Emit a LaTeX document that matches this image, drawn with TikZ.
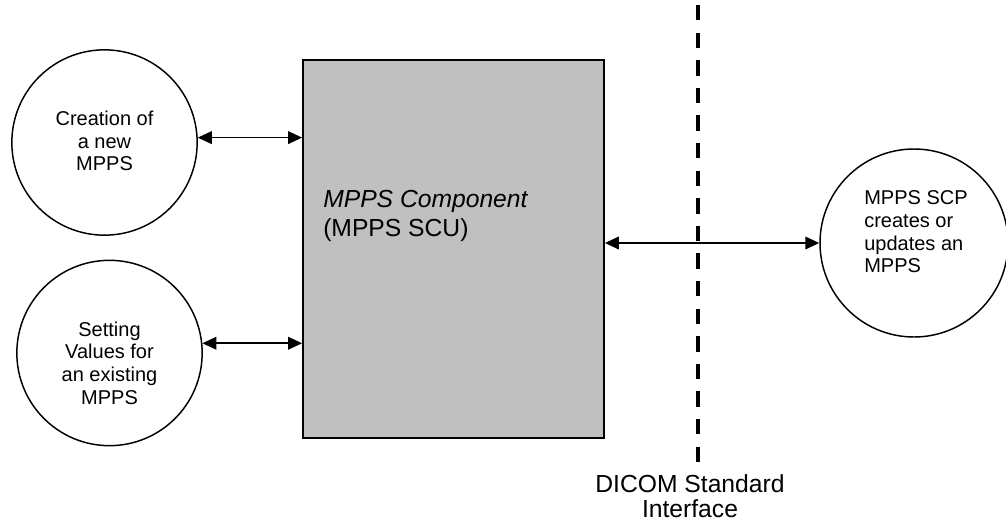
\documentclass[tikz,border=0pt]{standalone}
\usepackage{fontspec}
\setmainfont{Liberation Sans}
\usetikzlibrary{arrows.meta}
\definecolor{compgray}{RGB}{192,192,192}

\begin{document}
\begin{tikzpicture}[x=0.75pt,y=-0.75pt,
	usecase/.style={draw, circle, line width=1.1pt, inner sep=0pt},
	casetext/.style={align=center, inner sep=0pt, font=\fontsize{15pt}{17pt}\selectfont},
	link/.style={<->, >={Triangle[length=10.5pt,width=9.5pt]}, line width=1.2pt}]
	\useasboundingbox (0,0) rectangle (1006,525);
	
	% MPPS component (grey box)
	\node[draw, fill=compgray, line width=1.1pt, minimum width=226pt, minimum height=283.5pt, inner sep=0pt] (comp) at (453.5,249) {};
	\node[anchor=north west, inner sep=0pt, align=left, font=\fontsize{18.5pt}{21.75pt}\selectfont] (comptext) at (323,190) {\textit{MPPS Component}\\(MPPS SCU)};
	
	% use cases on the left
	\node[usecase, minimum size=139pt] (create) at (104.5,142.5) {};
	\node[casetext] (createtext) at (104.5,141) {Creation of\\a new\\MPPS};
	\node[usecase, minimum size=139pt] (setval) at (109.5,353) {};
	\node[casetext] (setvaltext) at (109.5,363) {Setting\\Values for\\an existing\\MPPS};
	
	% remote SCP
	\node[usecase, minimum size=141pt] (scp) at (914,243) {};
	\node[casetext, align=left] (scptext) at (916,232) {MPPS SCP\\creates or\\updates an\\MPPS};
	
	\draw[link] (create.3) -- (create.3 -| comp.west);
	\draw[link] (setval.6) -- (setval.6 -| comp.west);
	\draw[link] (comp.east |- scp.west) -- (scp.west);
	
	% interface border
	\coordinate (ifacetop) at (698,5);
	\coordinate (ifacebot) at (698,462);
	\draw[line width=3pt, dash pattern=on 11.5pt off 9.2pt] (ifacetop) -- (ifacebot);
	\node[align=center, inner sep=0pt, font=\fontsize{18.5pt}{18.75pt}\selectfont] (ifacetext) at (690,496.5) {DICOM Standard\\Interface};
	
\end{tikzpicture}
\end{document}
